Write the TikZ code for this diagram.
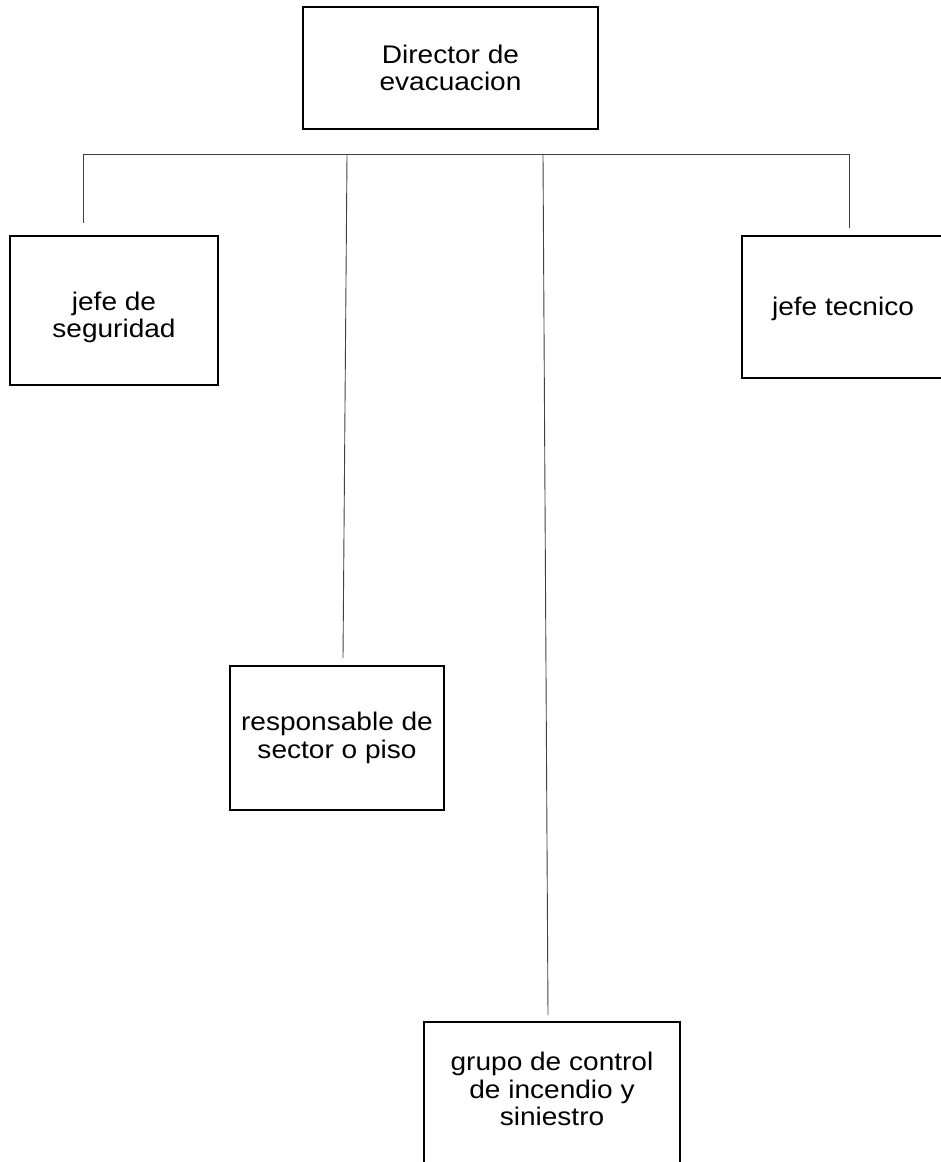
\documentclass[tikz,border=0pt]{standalone}
\usepackage{fontspec}
\setmainfont[FakeStretch=1.1]{Liberation Sans}
\usetikzlibrary{positioning}

\begin{document}
\begin{tikzpicture}[
    x=1pt, y=-1pt,
    font=\fontsize{25.5}{27.5}\selectfont,
    cargo/.style={
      rectangle,
      draw=black,
      line width=1.4pt,
      inner sep=0pt,
      align=center
    },
    enlace/.style={
      draw=black!75,
      line width=0.9pt
    }
  ]
  \useasboundingbox (0,0) rectangle (941,1162);
  \clip (0,0) rectangle (941,1162);

  \node[cargo, minimum width=295pt, minimum height=122pt] (director) at (450.5,68) {Director de\\evacuacion};

  \node[cargo, minimum width=208pt, minimum height=149pt, text height=60pt] (seguridad) at (114,310.5) {jefe de\\seguridad};
  \node[cargo, minimum width=202pt, minimum height=142pt, text height=22pt] (tecnico) at (843,307) {jefe tecnico};
  \node[cargo, minimum width=214pt, minimum height=144pt] (sector) at (337,738) {responsable de\\sector o piso};
  \node[cargo, minimum width=256pt, minimum height=150pt, text depth=16pt] (grupo) at (552,1097) {grupo de control\\de incendio y\\siniestro};

  % extremos de las lineas
  \coordinate (bus izq) at (83,154);
  \coordinate (bus der) at (849,154);
  \coordinate (seg fin) at (83,223);
  \coordinate (tec fin) at (849,228);
  \coordinate (sec ini) at (347,155);
  \coordinate (sec fin) at (343,658);
  \coordinate (gru ini) at (543,155);
  \coordinate (gru fin) at (548,1015);

  \draw[enlace] (seg fin) -- (bus izq) -- (bus der) -- (tec fin);
  \draw[enlace] (sec ini) -- (sec fin);
  \draw[enlace] (gru ini) -- (gru fin);
\end{tikzpicture}
\end{document}
